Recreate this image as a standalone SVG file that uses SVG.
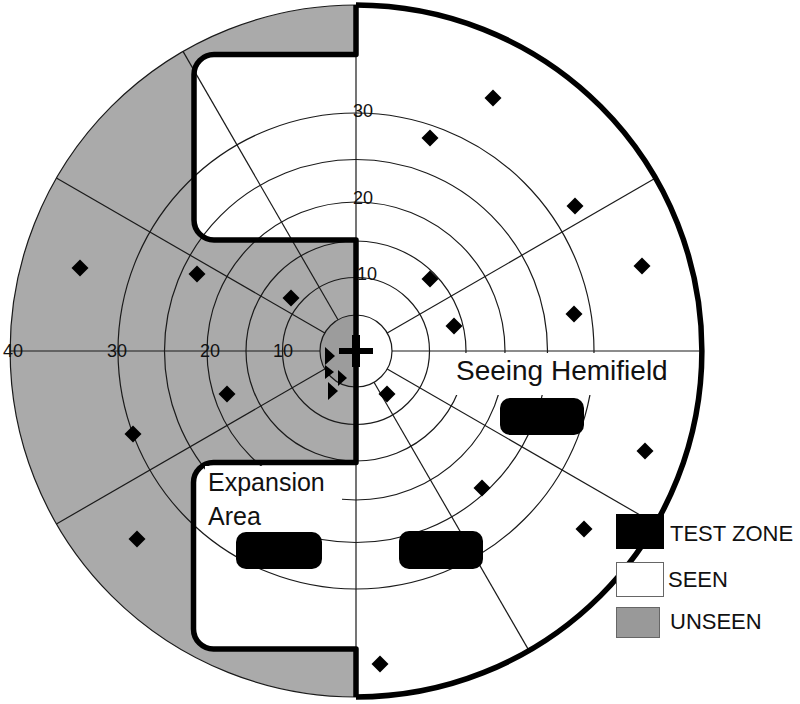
<svg xmlns="http://www.w3.org/2000/svg" xmlns:xlink="http://www.w3.org/1999/xlink" width="800" height="704" viewBox="0 0 800 704">
<style>
.thin{fill:none;stroke:#1a1a1a;stroke-width:1.2}
.thick{fill:none;stroke:#000;stroke-width:5.5;stroke-linejoin:round}
.lbl{font-family:"Liberation Sans",Arial,sans-serif;fill:#111}
.num{font-family:"Liberation Sans",Arial,sans-serif;font-size:18px;fill:#111}
.zone{fill:#000}
.mk{fill:#000}
</style>
<defs>
<path id="dia" d="M0,-8.5 L8.5,0 L0,8.5 L-8.5,0Z"/>
</defs>
<rect width="800" height="704" fill="#fff"/>
<g id="field">
<path d="M356,5 A346,346 0 0 0 356,697 Z" fill="#aaaaaa"/>
<path d="M356,54.5 H214 A20,20 0 0 0 194,74.5 V220 A20,20 0 0 0 214,240 H356 Z" fill="#fff"/>
<path d="M356,462.5 H213.5 A20,20 0 0 0 193.5,482.5 V629 A20,20 0 0 0 213.5,649 H356 Z" fill="#fff"/>
</g>
<g id="rings" class="thin">
<circle cx="356" cy="351" r="73.5"/>
<circle cx="356" cy="351" r="110"/>
<circle cx="356" cy="351" r="149"/>
<circle cx="356" cy="351" r="191.5"/>
<circle cx="356" cy="351" r="238"/>
<path d="M356,5 A346,346 0 0 0 356,697"/>
</g>
<g id="spokes" class="thin">
<line x1="10" y1="351" x2="320" y2="351"/>
<line x1="392" y1="351" x2="702" y2="351"/>
<line x1="356" y1="5" x2="356" y2="697"/>
<line x1="387.2" y1="333" x2="655.6" y2="178"/>
<line x1="338" y1="319.8" x2="183" y2="51.4"/>
<line x1="324.8" y1="333" x2="56.4" y2="178"/>
<line x1="324.8" y1="369" x2="56.4" y2="524"/>
<line x1="374" y1="382.2" x2="529" y2="650.6"/>
<line x1="387.2" y1="369" x2="655.6" y2="524"/>
</g>
<g id="center">
<path d="M356,315 A36,36 0 0 0 356,387 Z" fill="#9c9c9c"/>
<path d="M356,315 A36,36 0 0 1 356,387 Z" fill="#fff"/>
<circle cx="356" cy="351" r="36" class="thin"/>
</g>
<g id="outline">
<path class="thick" d="M356,5 V54.5 H214 A20,20 0 0 0 194,74.5 V220 A20,20 0 0 0 214,240 H356 V462.5 H213.5 A20,20 0 0 0 193.5,482.5 V629 A20,20 0 0 0 213.5,649 H356 V697"/>
<path class="thick" d="M356,5 A346,346 0 0 1 356,697"/>
</g>
<g id="ring-labels">
<text class="num" x="353" y="117">30</text>
<text class="num" x="353" y="204">20</text>
<text class="num" x="357" y="280">10</text>
<text class="num" x="3" y="357">40</text>
<text class="num" x="107" y="357">30</text>
<text class="num" x="200" y="357">20</text>
<text class="num" x="273" y="357">10</text>
</g>
<g id="seeing-hemifield">
<rect x="452" y="353" width="218" height="42" fill="#fff"/>
<text class="lbl" x="456" y="380" font-size="28">Seeing Hemifield</text>
</g>
<g id="expansion-area">
<rect x="205" y="466" width="137" height="68" fill="#fff"/>
<text class="lbl" x="208" y="491" font-size="25">Expansion</text>
<text class="lbl" x="208" y="525" font-size="25">Area</text>
</g>
<g id="test-zones">
<rect class="zone" x="500" y="398" width="84" height="37" rx="10"/>
<rect class="zone" x="399" y="531" width="84" height="38" rx="10"/>
<rect class="zone" x="236" y="532" width="86" height="37" rx="10"/>
</g>
<g id="markers">
<use xlink:href="#dia" x="80" y="268"/>
<use xlink:href="#dia" x="197" y="274"/>
<use xlink:href="#dia" x="291" y="298"/>
<use xlink:href="#dia" x="493" y="98"/>
<use xlink:href="#dia" x="430" y="138"/>
<use xlink:href="#dia" x="575" y="206"/>
<use xlink:href="#dia" x="642" y="266"/>
<use xlink:href="#dia" x="430" y="279"/>
<use xlink:href="#dia" x="454" y="326"/>
<use xlink:href="#dia" x="574" y="314"/>
<use xlink:href="#dia" x="227" y="394"/>
<use xlink:href="#dia" x="133" y="434"/>
<use xlink:href="#dia" x="137" y="539"/>
<use xlink:href="#dia" x="380" y="664"/>
<use xlink:href="#dia" x="387" y="394"/>
<use xlink:href="#dia" x="645" y="451"/>
<use xlink:href="#dia" x="482" y="488"/>
<use xlink:href="#dia" x="584" y="529"/>
<polygon class="mk" points="325,347 335,356 325,365"/>
<polygon class="mk" points="325,365 334,372 325,379"/>
<polygon class="mk" points="338,370 347,378 338,386"/>
<polygon class="mk" points="328,382 338,391 328,400"/>
</g>
<g id="fixation">
<rect x="339" y="348" width="34" height="6" fill="#000"/>
<rect x="352" y="335" width="8" height="32" fill="#000"/>
</g>
<g id="legend">
<rect x="616" y="514" width="48" height="35" fill="#000"/>
<rect x="616.5" y="562.5" width="47" height="34" fill="#fff" stroke="#666" stroke-width="1"/>
<rect x="616.5" y="607.5" width="43" height="30" fill="#999" stroke="#666" stroke-width="1"/>
<text class="lbl" x="670" y="541" font-size="22">TEST ZONE</text>
<text class="lbl" x="668" y="587" font-size="22">SEEN</text>
<text class="lbl" x="670" y="629" font-size="22">UNSEEN</text>
</g>
</svg>
